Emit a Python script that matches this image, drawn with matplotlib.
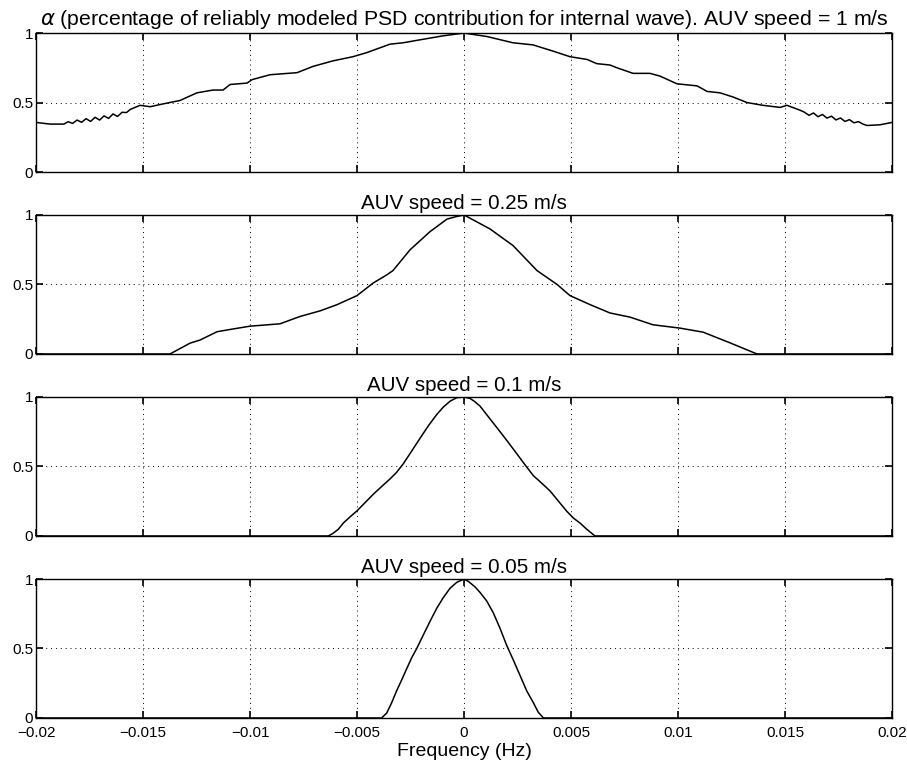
import numpy as np
import matplotlib
matplotlib.use('Agg')
import matplotlib.pyplot as plt

plt.rcParams['font.family'] = ['Liberation Sans', 'DejaVu Sans']

# AUV speed = 1 m/s
f_1 = [-0.02, -0.01935, -0.0189, -0.0187, -0.0185, -0.01829, -0.01808, -0.01787,
       -0.01766, -0.01745, -0.01724, -0.01703, -0.01682, -0.01661, -0.0164,
       -0.01619, -0.01598, -0.01577, -0.0156, -0.01514, -0.01467, -0.01407,
       -0.01327, -0.01248, -0.01173, -0.01126, -0.01093, -0.01014, -0.0099,
       -0.00907, -0.0078, -0.00706, -0.00612, -0.00519, -0.00453, -0.00346,
       -0.00285, -0.00192, -0.00098, 0.0, 0.00107, 0.00229, 0.00322, 0.00416,
       0.00495, 0.00575, 0.0062, 0.00682, 0.00715, 0.0079, 0.00869, 0.00916,
       0.00995, 0.01089, 0.01136, 0.01196, 0.01257, 0.01322, 0.01397, 0.01477,
       0.01509, 0.0157, 0.01591, 0.01612, 0.01633, 0.01654, 0.01675, 0.01696,
       0.01717, 0.01738, 0.01759, 0.0178, 0.01801, 0.01822, 0.01843, 0.01864,
       0.01883, 0.01944, 0.02]
a_1 = [0.357, 0.345, 0.345, 0.345, 0.362, 0.350, 0.374, 0.358, 0.384, 0.364,
       0.394, 0.374, 0.404, 0.386, 0.418, 0.400, 0.430, 0.428, 0.45, 0.48,
       0.47, 0.49, 0.515, 0.57, 0.59, 0.59, 0.63, 0.64, 0.665, 0.70, 0.715,
       0.76, 0.80, 0.83, 0.86, 0.92, 0.93, 0.955, 0.98, 1.0, 0.975, 0.93,
       0.915, 0.87, 0.83, 0.81, 0.78, 0.77, 0.75, 0.71, 0.71, 0.69, 0.635,
       0.62, 0.58, 0.57, 0.54, 0.50, 0.48, 0.465, 0.48, 0.445, 0.43, 0.408,
       0.425, 0.398, 0.414, 0.388, 0.402, 0.375, 0.389, 0.364, 0.377, 0.354,
       0.363, 0.345, 0.335, 0.34, 0.357]

# AUV speed = 0.25 m/s
f_025 = [-0.02, -0.01374, -0.0128, -0.01234, -0.01154, -0.01079, -0.01, -0.0086,
         -0.00766, -0.00673, -0.00593, -0.005, -0.00425, -0.0036, -0.00332,
         -0.00252, -0.00159, -0.0008, -0.00033, 0.0, 0.00121, 0.00229, 0.00341,
         0.00435, 0.00495, 0.00589, 0.00682, 0.00776, 0.00883, 0.01009, 0.01117,
         0.01243, 0.01369, 0.02]
a_025 = [0.0, 0.0, 0.078, 0.10, 0.16, 0.18, 0.20, 0.217, 0.27, 0.31, 0.355,
         0.42, 0.51, 0.57, 0.60, 0.75, 0.88, 0.97, 0.99, 1.0, 0.90, 0.78,
         0.60, 0.50, 0.42, 0.355, 0.295, 0.265, 0.21, 0.186, 0.157, 0.08,
         0.0, 0.0]

# AUV speed = 0.1 m/s
f_01 = [-0.02, -0.00634, -0.00611, -0.00587, -0.00564, -0.00533, -0.00502,
        -0.00463, -0.00424, -0.00385, -0.00346, -0.00315, -0.00284, -0.00245,
        -0.00206, -0.00167, -0.00128, -0.00097, -0.00065, -0.00034, 0.0,
        0.00028, 0.00051, 0.00075, 0.00106, 0.00137, 0.00168, 0.00207, 0.00246,
        0.00285, 0.00324, 0.00363, 0.00402, 0.00441, 0.0048, 0.00511, 0.00542,
        0.00573, 0.00612, 0.02]
a_01 = [0.0, 0.0, 0.02, 0.049, 0.093, 0.137, 0.178, 0.239, 0.30, 0.356, 0.41,
        0.458, 0.519, 0.61, 0.702, 0.792, 0.873, 0.927, 0.97, 0.995, 1.0,
        0.99, 0.966, 0.934, 0.873, 0.812, 0.751, 0.673, 0.593, 0.512, 0.434,
        0.38, 0.324, 0.251, 0.178, 0.129, 0.093, 0.049, 0.0, 0.0]

# AUV speed = 0.05 m/s
f_005 = [-0.02, -0.00385, -0.00361, -0.00338, -0.00315, -0.00291, -0.00268,
         -0.00245, -0.00221, -0.0019, -0.00159, -0.00128, -0.00097, -0.00065,
         -0.00034, 0.0, 0.0002, 0.00051, 0.00075, 0.00106, 0.00137, 0.00168,
         0.00199, 0.00231, 0.00262, 0.00293, 0.00324, 0.00347, 0.00371, 0.02]
a_005 = [0.0, 0.0, 0.036, 0.11, 0.195, 0.275, 0.354, 0.432, 0.50, 0.598,
         0.695, 0.788, 0.866, 0.934, 0.976, 1.0, 0.983, 0.944, 0.903, 0.842,
         0.756, 0.646, 0.524, 0.415, 0.305, 0.195, 0.11, 0.041, 0.0, 0.0]

titles = [r'$\alpha$ (percentage of reliably modeled PSD contribution for internal wave). AUV speed = 1 m/s',
          'AUV speed = 0.25 m/s', 'AUV speed = 0.1 m/s', 'AUV speed = 0.05 m/s']
series = [(f_1, a_1), (f_025, a_025), (f_01, a_01), (f_005, a_005)]
xticks = [-0.02, -0.015, -0.01, -0.005, 0, 0.005, 0.01, 0.015, 0.02]
xticklabels = ['\u22120.02', '\u22120.015', '\u22120.01', '\u22120.005', '0',
               '0.005', '0.01', '0.015', '0.02']

fig = plt.figure(figsize=(9.07, 7.67), dpi=100)
bottoms = [0.7757, 0.5385, 0.3012, 0.0639]
for i, ((fx, ay), ttl) in enumerate(zip(series, titles)):
    ax = fig.add_axes([0.0397, bottoms[i], 0.9438, 0.1812])
    ax.plot(fx, ay, color='black', lw=1.1)
    ax.set_xlim(-0.02, 0.02)
    ax.set_ylim(0, 1)
    ax.set_xticks(xticks)
    ax.set_yticks([0, 0.5, 1])
    ax.set_yticklabels(['0', '0.5', '1'])
    if i == 3:
        ax.set_xticklabels(xticklabels)
        ax.set_xlabel('Frequency (Hz)', fontsize=14, labelpad=2)
    else:
        ax.set_xticklabels([])
    ax.tick_params(direction='in', top=True, right=True, length=5, width=1.2,
                   labelsize=11, pad=2)
    ax.tick_params(axis='x', pad=6)
    ax.grid(True, color='black', linestyle=(0, (1, 4)), linewidth=0.7)
    for s in ax.spines.values():
        s.set_linewidth(1.0)
    if i == 0:
        ax.set_title(ttl, fontsize=15.3, pad=6)
    else:
        ax.set_title(ttl, fontsize=14.8, pad=4)

plt.savefig('out.png', dpi=100)
plt.close()
